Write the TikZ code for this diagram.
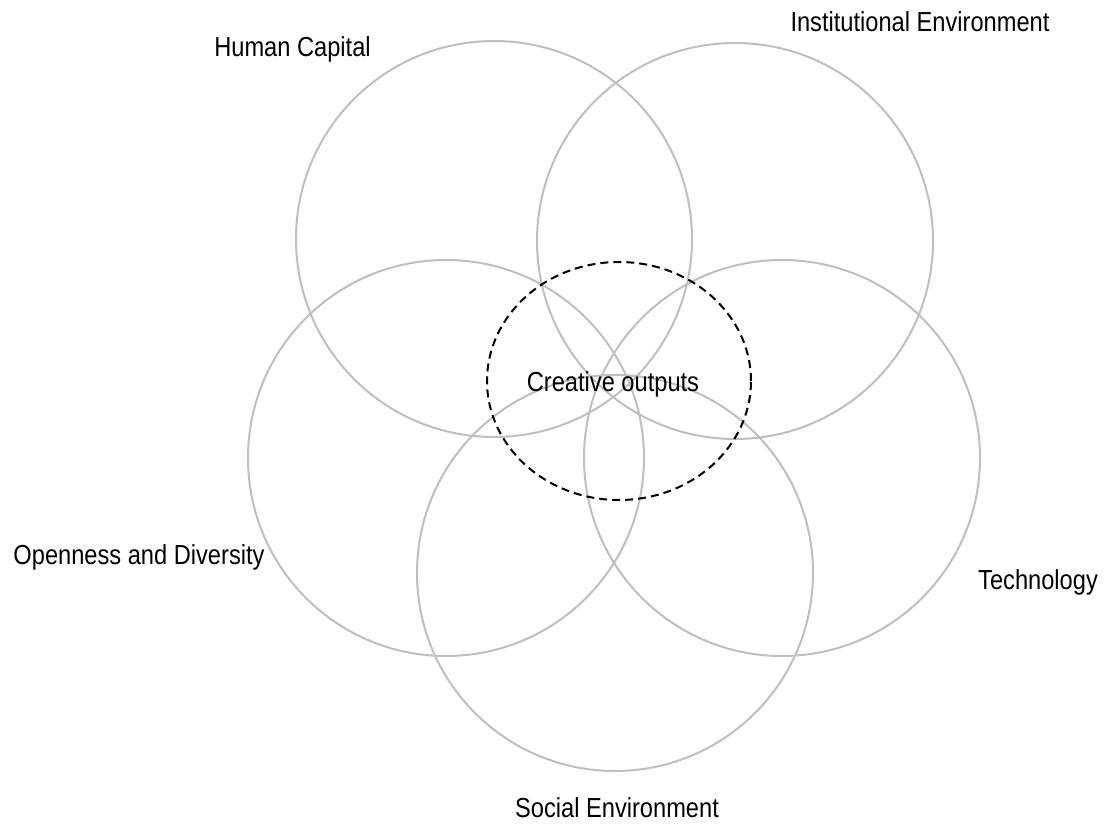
\documentclass[tikz,border=0pt]{standalone}
\usepackage{fontspec}
\setmainfont[FakeStretch=0.86]{Liberation Sans}
\usepackage{tikz}
\usetikzlibrary{shapes.geometric}

\begin{document}
\begin{tikzpicture}[x=1pt, y=-1pt,
  factor/.style={circle, draw=black!25, line width=2pt, minimum size=396pt, inner sep=0pt},
  core/.style={ellipse, draw=black, line width=2pt, dash pattern=on 8pt off 5pt,
    minimum width=264pt, minimum height=238pt, inner sep=0pt},
  lbl/.style={font=\fontsize{27.5}{30}\selectfont, inner sep=0pt, anchor=base}]

\useasboundingbox (0,0) rectangle (1106,834);

% First, the five factor circles
\node[factor] (hc) at (494,239) {};
\node[factor] (ie) at (735,241) {};
\node[factor] (od) at (446,458) {};
\node[factor] (te) at (782,458) {};
\node[factor] (se) at (615,573) {};

% the dashed core, where all of them meet
\node[core] (co) at (619,381) {};
\node[lbl] (colbl) at (613,391) {Creative outputs};

% Finally the names of the circles
\node[lbl] (hclbl) at (292.5,57) {Human Capital};
\node[lbl] (ielbl) at (920,32) {Institutional Environment};
\node[lbl] (odlbl) at (139,564) {Openness and Diversity};
\node[lbl] (telbl) at (1038,589) {Technology};
\node[lbl] (selbl) at (617,817) {Social Environment};

\end{tikzpicture}
\end{document}
